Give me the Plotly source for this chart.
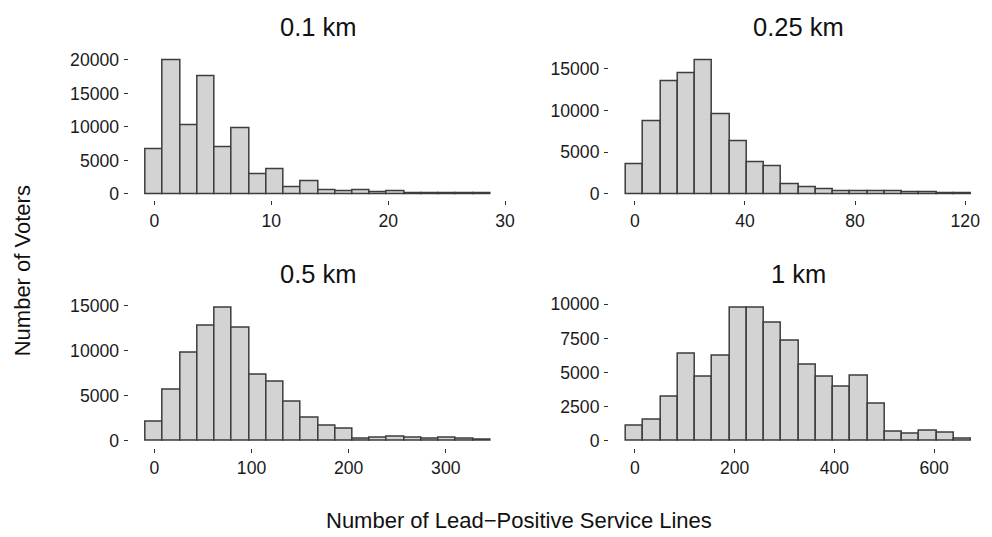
import plotly.graph_objects as go

# ---- data ----
titles = ["0.1 km", "0.25 km", "0.5 km", "1 km"]
bin_max = [28, 119, 337, 657]   # largest observed value per panel (20 bins each)

counts_01 = [6720, 20000, 10300, 17570, 7020, 9770, 2940, 3730, 1030, 1910,
             490, 340, 540, 200, 340, 150, 150, 50, 50, 30]
counts_025 = [3535, 8680, 13510, 14450, 16065, 9545, 6245, 3770, 3300, 1100,
              785, 510, 275, 275, 275, 350, 235, 157, 80, 40]
counts_05 = [2112, 5645, 9832, 12745, 14820, 12527, 7320, 6518, 4334, 2513,
             1675, 1311, 255, 290, 400, 290, 220, 290, 180, 70]
counts_1 = [1079, 1511, 3213, 6379, 4676, 6211, 9712, 9760, 8633, 7290,
            5588, 4652, 3933, 4724, 2686, 671, 528, 743, 623, 120]

x_ticks = [[0, 10, 20, 30], [0, 40, 80, 120], [0, 100, 200, 300], [0, 200, 400, 600]]
y_ticks = [[0, 5000, 10000, 15000, 20000], [0, 5000, 10000, 15000],
           [0, 5000, 10000, 15000], [0, 2500, 5000, 7500, 10000]]

all_counts = [counts_01, counts_025, counts_05, counts_1]

# ---- layout geometry (pixels) ----
W, H = 992, 537
col_px = [(129.6, 511.7), (613.9, 996.4)]
row_px = [(48.1, 197.8), (299.9, 449.1)]

fig = go.Figure()
layout = dict(
    width=W, height=H,
    margin=dict(l=0, r=0, t=0, b=0),
    paper_bgcolor="white", plot_bgcolor="white",
    showlegend=False,
    font=dict(family="Liberation Sans, Arial, sans-serif", color="#1a1a1a"),
    bargap=0,
)
annotations = []

for i in range(4):
    r, c = divmod(i, 2)
    n = len(all_counts[i])
    w = bin_max[i] / (n - 1)
    centers = [k * w for k in range(n)]
    lo, hi = -w / 2, bin_max[i] + w / 2
    span = hi - lo
    lo_e, hi_e = lo - 0.05 * span, hi + 0.05 * span
    x0p, x1p = col_px[c]
    if x1p > W:
        hi_e = lo_e + (W - x0p) / (x1p - x0p) * (hi_e - lo_e)
        x1p = W
    ymax = max(all_counts[i])
    y0p, y1p = row_px[r]
    ax = "" if i == 0 else str(i + 1)
    fig.add_trace(go.Bar(
        x=centers, y=all_counts[i], width=[w] * n,
        marker=dict(color="#D3D3D3", line=dict(color="#3d3d3d", width=1.5)),
        xaxis="x" + ax, yaxis="y" + ax, hoverinfo="x+y",
    ))
    common = dict(showgrid=False, zeroline=False, showline=False,
                  ticks="outside", ticklen=4, tickwidth=1.2, tickcolor="#333333",
                  tickfont=dict(size=17.6, color="#1a1a1a"))
    layout["xaxis" + ax] = dict(
        domain=[x0p / W, x1p / W], range=[lo_e, hi_e],
        tickvals=x_ticks[i], ticktext=[str(v) for v in x_ticks[i]],
        anchor="y" + ax, **common)
    layout["yaxis" + ax] = dict(
        domain=[1 - y1p / H, 1 - y0p / H], range=[-0.05 * ymax, 1.05 * ymax],
        tickvals=y_ticks[i], ticktext=[str(v) for v in y_ticks[i]],
        anchor="x" + ax, ticklabelstandoff=1, **common)
    annotations.append(dict(
        text=titles[i], x=(col_px[c][0] + col_px[c][1]) / 2 / W,
        y=1 - (y0p - 27) / H, xref="paper", yref="paper",
        xanchor="center", yanchor="middle", showarrow=False,
        font=dict(size=25.5, color="#111111")))

annotations.append(dict(
    text="Number of Lead\u2212Positive Service Lines", x=523 / W, y=1 - 523 / H,
    xref="paper", yref="paper", xanchor="center", yanchor="middle",
    showarrow=False, font=dict(size=22, color="#111111")))
annotations.append(dict(
    text="Number of Voters", x=23 / W, y=1 - 269 / H, textangle=-90,
    xref="paper", yref="paper", xanchor="center", yanchor="middle",
    showarrow=False, font=dict(size=22, color="#111111")))

layout["annotations"] = annotations
fig.update_layout(**layout)
fig.write_html("out.html")
